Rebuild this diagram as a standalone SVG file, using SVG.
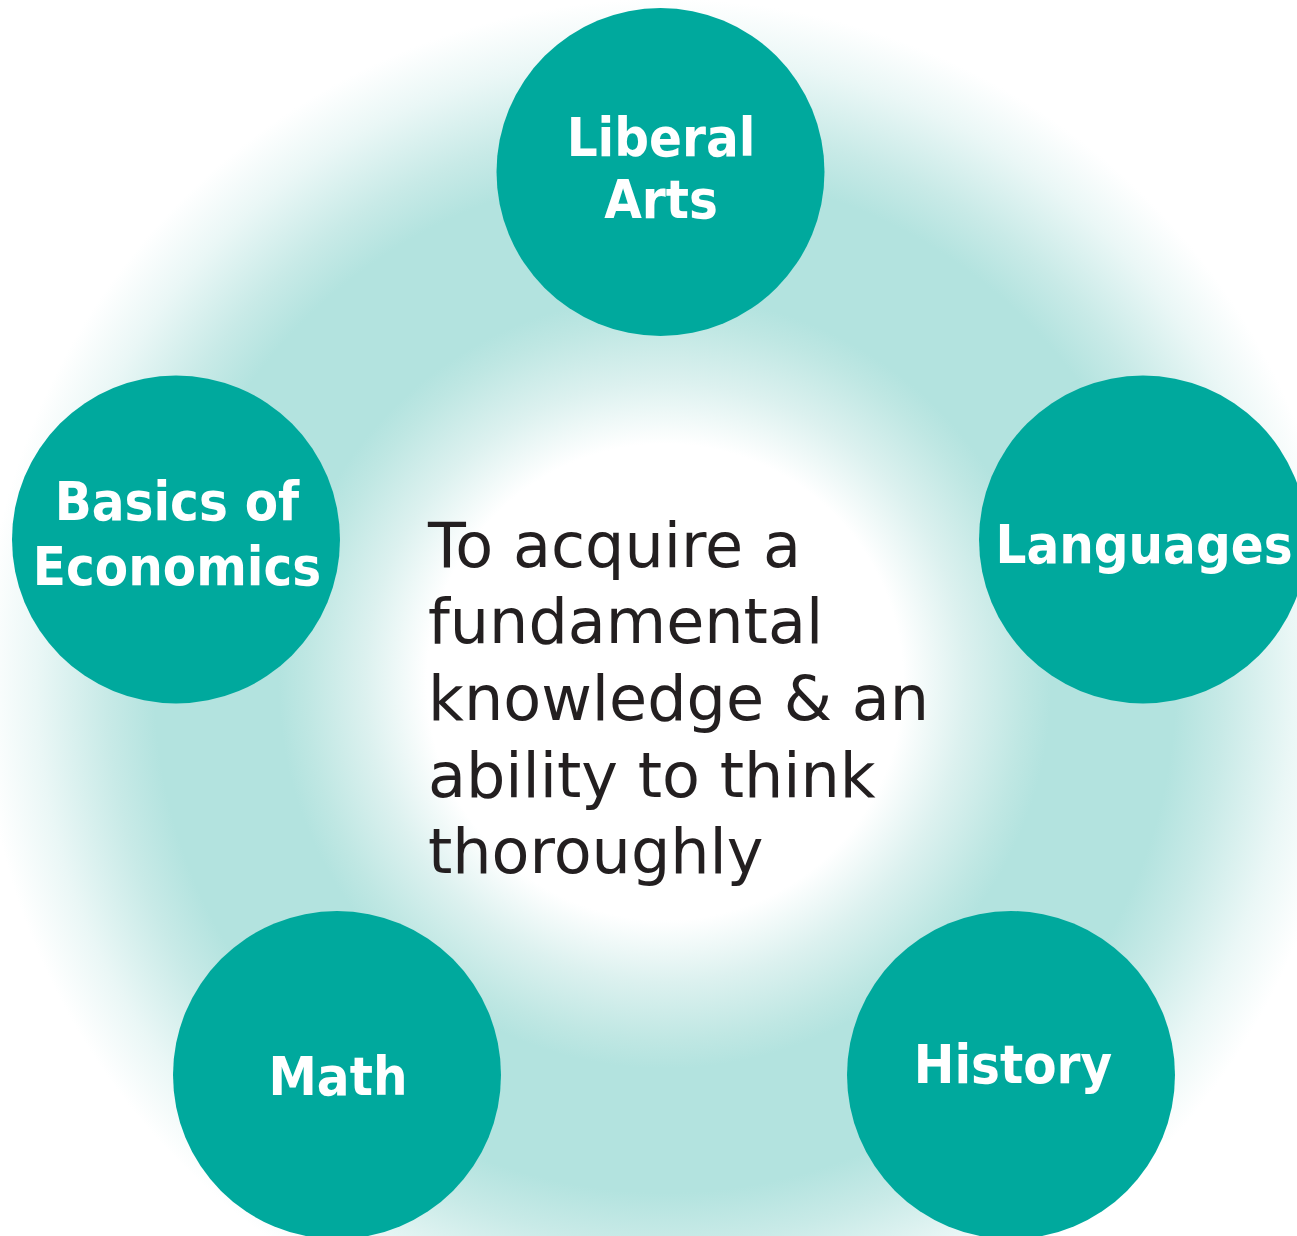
<svg xmlns="http://www.w3.org/2000/svg" width="1297" height="1236" viewBox="0 0 1297 1236">
<defs>
<radialGradient id="ring" gradientUnits="userSpaceOnUse" cx="665" cy="682" r="690">
<stop offset="0" stop-color="#ffffff"/>
<stop offset="0.345" stop-color="#ffffff"/>
<stop offset="0.435" stop-color="#dcf1ef"/>
<stop offset="0.52" stop-color="#bfe7e3"/>
<stop offset="0.56" stop-color="#b3e3df"/>
<stop offset="0.74" stop-color="#b3e3df"/>
<stop offset="0.81" stop-color="#c8eae7"/>
<stop offset="0.91" stop-color="#eaf7f6"/>
<stop offset="0.99" stop-color="#ffffff"/>
<stop offset="1" stop-color="#ffffff"/>
</radialGradient>
<style>
.node circle { fill: #00a99d; }
.lbl { font-family: "DejaVu Sans Condensed", "DejaVu Sans", Verdana, sans-serif; font-stretch: condensed; font-weight: bold; font-size: 54px; fill: #ffffff; text-anchor: middle; }
.center { font-family: "DejaVu Sans", Verdana, sans-serif; font-size: 62px; fill: #231f20; }
</style>
</defs>
<rect x="0" y="0" width="1297" height="1236" fill="#ffffff"/>
<rect id="background-ring" x="0" y="0" width="1297" height="1236" fill="url(#ring)"/>
<g id="connectors"></g>
<g id="center-text">
<text class="center" x="428">
<tspan x="428" y="567">To acquire a</tspan>
<tspan x="428" y="643">fundamental</tspan>
<tspan x="428" y="720">knowledge &amp; an</tspan>
<tspan x="428" y="797">ability to think</tspan>
<tspan x="428" y="873">thoroughly</tspan>
</text>
</g>
<g id="node-liberal-arts" class="node">
<circle cx="660.5" cy="172" r="164"/>
<text class="lbl" x="661" y="156">Liberal</text>
<text class="lbl" x="661" y="218">Arts</text>
</g>
<g id="node-languages" class="node">
<circle cx="1143" cy="539.5" r="164"/>
<text class="lbl" x="1144" y="563">Languages</text>
</g>
<g id="node-history" class="node">
<circle cx="1011" cy="1075" r="164"/>
<text class="lbl" x="1013" y="1083">History</text>
</g>
<g id="node-math" class="node">
<circle cx="337" cy="1075" r="164"/>
<text class="lbl" x="338" y="1095">Math</text>
</g>
<g id="node-basics-of-economics" class="node">
<circle cx="176" cy="539.5" r="164"/>
<text class="lbl" x="177" y="520">Basics of</text>
<text class="lbl" x="177" y="585">Economics</text>
</g>
</svg>
